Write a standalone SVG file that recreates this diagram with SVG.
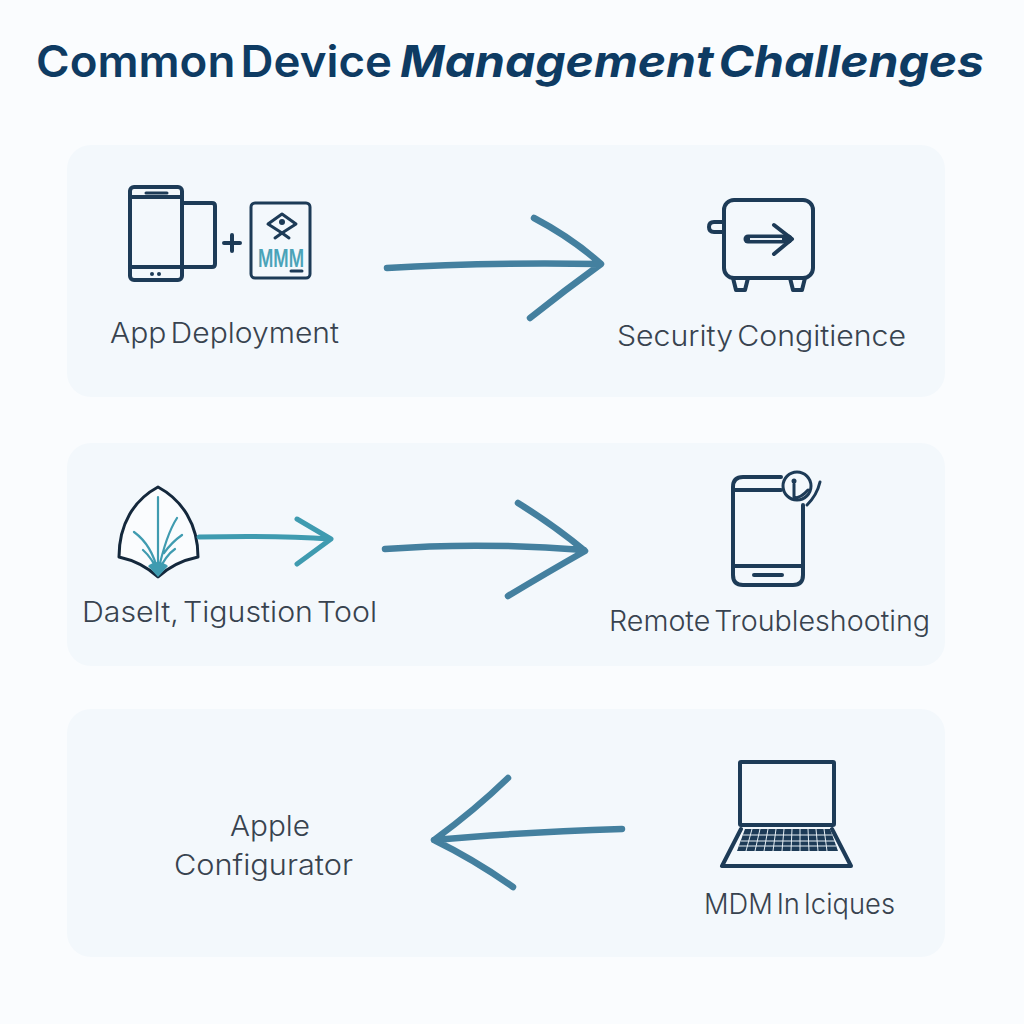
<svg xmlns="http://www.w3.org/2000/svg" width="1024" height="1024" viewBox="0 0 1024 1024">
<style>
.panel{fill:#f3f8fc}
.ic{fill:none;stroke:#1d3b57;stroke-width:4;stroke-linecap:round;stroke-linejoin:round}
.thin{stroke-width:3}
.lb{font-family:Inter,"Liberation Sans",sans-serif;font-size:28px;fill:#38434f;font-weight:300;word-spacing:-4px}
.ttl{font-family:Inter,"Liberation Sans",sans-serif;font-size:44px;fill:#0e3b63;font-weight:600;word-spacing:-6px}
.arr{fill:none;stroke:#44809f;stroke-width:6.500;stroke-linecap:round;stroke-linejoin:round}
.teal{fill:none;stroke:#3f9bb0;stroke-linecap:round;stroke-linejoin:round}
</style>
<rect width="1024" height="1024" fill="#fafcfe"/>
<g id="title">
<text class="ttl" x="36" y="77" textLength="356" lengthAdjust="spacingAndGlyphs">Common Device</text>
<text class="ttl" x="400" y="77" textLength="584" lengthAdjust="spacingAndGlyphs" font-style="italic" style="font-weight:700">Management Challenges</text>
</g>
<rect class="panel" x="67" y="145" width="878" height="252" rx="24"/>
<rect class="panel" x="67" y="443" width="878" height="223" rx="24"/>
<rect class="panel" x="67" y="709" width="878" height="248" rx="24"/>

<g id="connectors">
<path class="arr" d="M387 268C450 264 530 263 600 264M534 218Q572 238 601 264Q565 290 530 318"/>
<path class="arr" d="M385 549C450 544 520 545 584 550M518 503Q555 526 585 551Q548 572 508 596"/>
<path class="arr" d="M622 829C560 831 500 834 434 840M508 778Q475 810 434 840Q475 860 513 887"/>
</g>

<g id="app-deployment">
<path class="ic" d="M182 203H212Q215 203 215 206V264Q215 267 212 267H182"/>
<rect class="ic" x="130" y="187" width="52" height="93" rx="4"/>
<path class="ic" d="M130 197H182M130 267H182"/>
<path class="ic thin" d="M146 193H167"/>
<circle cx="152" cy="274" r="2" fill="#1d3b57"/><circle cx="159" cy="274" r="2" fill="#1d3b57"/>
<path class="ic" d="M224 243H240M232 235V251"/>
<rect class="ic thin" x="251" y="203" width="59" height="75" rx="4"/>
<path class="ic thin" d="M282 214L296 224L282 233L268 224Z"/>
<circle cx="282" cy="222" r="3" fill="#1d3b57"/>
<path class="ic thin" d="M275 238L282 233L289 238"/>
<text x="258" y="267" font-family="Inter,'Liberation Sans',sans-serif" font-size="24" font-weight="600" fill="#4aa3b8" textLength="46" lengthAdjust="spacingAndGlyphs">MMM</text>
<path class="ic thin" d="M291 271H302"/>
<text class="lb" x="110" y="343" textLength="229" lengthAdjust="spacingAndGlyphs">App Deployment</text>
</g>

<g id="security-compliance">
<rect class="ic" x="724" y="200" width="89" height="78" rx="10"/>
<path class="ic" d="M723 222H714Q709 222 709 227Q709 232 714 232H723"/>
<path d="M748 239H788" fill="none" stroke="#1d3b57" stroke-width="9" stroke-linecap="round"/>
<path d="M750 239H782" fill="none" stroke="#e9f0f6" stroke-width="2"/>
<path class="ic" d="M774 225L792 239L774 254"/>
<path class="ic" d="M733 278L736 290H745L748 278M790 278L793 290H802L805 278"/>
<text class="lb" x="617" y="346" textLength="289" lengthAdjust="spacingAndGlyphs">Security Congitience</text>
</g>

<g id="deselt-tool">
<path d="M158 487C134 500 119 524 119 557Q142 562 158 577Q174 562 198 557C198 524 182 500 158 487Z" fill="#fafcfe" stroke="#14283c" stroke-width="3" stroke-linejoin="round"/>
<path class="teal" stroke-width="2.200" d="M158 497V572M158 572Q152 545 134 532M158 572Q166 535 177 518M158 572Q152 558 143 550M158 572Q166 555 175 549M164 553Q172 542 182 535"/>
<path d="M148 566L158 577L168 566Q158 558 148 566Z" fill="#3f9bb0"/>
<path class="teal" stroke-width="5" d="M199 537C245 536 290 536 330 539M297 519L331 539L297 564"/>
<text class="lb" x="82" y="622" textLength="295" lengthAdjust="spacingAndGlyphs">Daselt, Tigustion Tool</text>
</g>

<g id="remote-troubleshooting">
<path class="ic" d="M781 477H743Q733 477 733 487V575Q733 585 743 585H793Q803 585 803 575V505"/>
<path class="ic" d="M733 490H781M733 566H803"/>
<path class="ic" d="M754 575H782"/>
<circle cx="797" cy="486" r="14" fill="none" stroke="#1d3b57" stroke-width="3"/>
<path class="ic thin" d="M794 484V498M794 498Q801 498 808 490M820 482Q817 495 807 505"/>
<circle cx="794" cy="481" r="2.500" fill="#1d3b57"/>
<text class="lb" x="609" y="631" textLength="321" lengthAdjust="spacingAndGlyphs">Remote Troubleshooting</text>
</g>

<g id="apple-configurator">
<text class="lb" x="230" y="836" textLength="80" lengthAdjust="spacingAndGlyphs">Apple</text>
<text class="lb" x="174" y="875" textLength="179" lengthAdjust="spacingAndGlyphs">Configurator</text>
</g>

<g id="mdm">
<rect class="ic" x="740" y="762" width="94" height="63" rx="1"/>
<path class="ic" d="M741 829L722 866H851L832 829"/>
<path d="M745 829H830L838 851H737Z" fill="#1d3b57"/>
<path stroke="#e6eff5" stroke-width="1" fill="none" d="M743 835H832M741 841H835M739 846H836M752 829L746 851M760 829L755 851M768 829L764 851M776 829L773 851M784 829L782 851M792 829L791 851M800 829L800 851M808 829L809 851M816 829L818 851M824 829L827 851"/>
<text class="lb" x="704" y="914" textLength="191" lengthAdjust="spacingAndGlyphs">MDM In Iciques</text>
</g>
</svg>
